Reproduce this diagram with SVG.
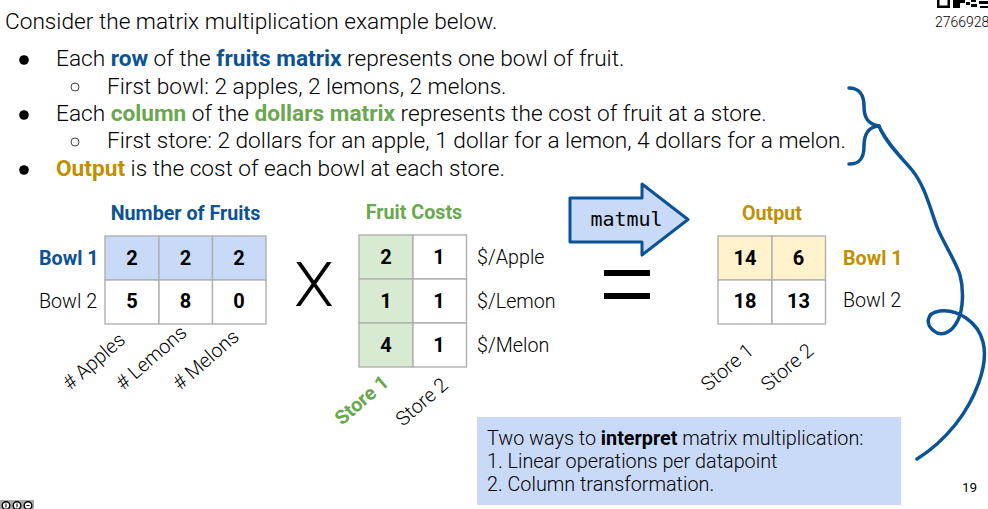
<svg xmlns="http://www.w3.org/2000/svg" width="988" height="509" viewBox="0 0 988 509">
<style>
text{font-family:Roboto,"Liberation Sans",sans-serif;font-weight:300;fill:#000}
.b{font-weight:700}
.blue{fill:#0b5394}.green{fill:#6aa84f}.gold{fill:#bf9000}
.t{font-size:22.67px}
.l{font-size:19.7px}
.h{font-size:19.7px;font-weight:700;text-anchor:middle}
.n{font-size:20px;font-weight:700;text-anchor:middle}
.cell{stroke:#b0b0b0;stroke-width:1.4;fill:#fff}
.cb{fill:#c9daf8}.cg{fill:#d9ead3}.cy{fill:#fff2cc}
.ink{fill:none;stroke:#0b5394;stroke-width:3.5;stroke-linecap:round;stroke-linejoin:round}
</style>
<rect width="988" height="509" fill="#fff"/>

<g id="qr" fill="#000">
<path d="M937 0h13v8h-13zM939.500 0v5.500h8V0z" fill-rule="evenodd"/>
<rect x="953" y="0" width="7" height="8"/>
<rect x="960" y="0" width="5" height="3"/>
<rect x="966" y="2" width="4" height="3"/>
<rect x="971" y="0" width="5" height="2"/>
<rect x="971" y="4" width="6" height="3"/>
<rect x="979" y="1" width="9" height="3"/>
<rect x="980" y="6" width="8" height="2"/>
</g>
<text x="935" y="27" font-size="14">2766928</text>

<g id="bullets">
<text class="t" x="5" y="29">Consider the matrix multiplication example below.</text>
<circle cx="24" cy="60" r="4.800"/>
<text class="t" x="56" y="66">Each <tspan class="b blue">row</tspan> of the <tspan class="b blue">fruits matrix</tspan> represents one bowl of fruit.</text>
<circle cx="75" cy="87" r="4" fill="none" stroke="#444" stroke-width="1"/>
<text class="t" x="107" y="94">First bowl: 2 apples, 2 lemons, 2 melons.</text>
<circle cx="24" cy="115" r="4.800"/>
<text class="t" x="56" y="121">Each <tspan class="b green">column</tspan> of the <tspan class="b green">dollars matrix</tspan> represents the cost of fruit at a store.</text>
<circle cx="75" cy="142" r="4" fill="none" stroke="#444" stroke-width="1"/>
<text class="t" x="107" y="148">First store: 2 dollars for an apple, 1 dollar for a lemon, 4 dollars for a melon.</text>
<circle cx="24" cy="170" r="4.800"/>
<text class="t" x="56" y="176"><tspan class="b gold">Output</tspan> is the cost of each bowl at each store.</text>
</g>

<g id="fruits-matrix">
<text class="h blue" x="185.500" y="220">Number of Fruits</text>
<rect class="cell cb" x="105" y="236" width="54" height="44"/>
<rect class="cell cb" x="159" y="236" width="53.500" height="44"/>
<rect class="cell cb" x="212.500" y="236" width="53.500" height="44"/>
<rect class="cell" x="105" y="280" width="54" height="44"/>
<rect class="cell" x="159" y="280" width="53.500" height="44"/>
<rect class="cell" x="212.500" y="280" width="53.500" height="44"/>
<text class="n" x="132" y="265">2</text><text class="n" x="185.500" y="265">2</text><text class="n" x="239" y="265">2</text>
<text class="n" x="132" y="308">5</text><text class="n" x="185.500" y="308">8</text><text class="n" x="239" y="308">0</text>
<text class="l b blue" x="39" y="265">Bowl 1</text>
<text class="l" x="39" y="308">Bowl 2</text>
<text class="l" transform="translate(70 391) rotate(-41)"># Apples</text>
<text class="l" transform="translate(123 391) rotate(-41)"># Lemons</text>
<text class="l" transform="translate(180 391) rotate(-41)"># Melons</text>
</g>

<text id="times" transform="translate(294 306) scale(1.05 1)" font-size="62">X</text>

<g id="costs-matrix">
<text class="h green" x="414" y="219">Fruit Costs</text>
<rect class="cell cg" x="359" y="235" width="54" height="44"/>
<rect class="cell" x="413" y="235" width="53.500" height="44"/>
<rect class="cell cg" x="359" y="279" width="54" height="44"/>
<rect class="cell" x="413" y="279" width="53.500" height="44"/>
<rect class="cell cg" x="359" y="323" width="54" height="44"/>
<rect class="cell" x="413" y="323" width="53.500" height="44"/>
<text class="n" x="386" y="264">2</text><text class="n" x="439" y="264">1</text>
<text class="n" x="386" y="308">1</text><text class="n" x="439" y="308">1</text>
<text class="n" x="386" y="352">4</text><text class="n" x="439" y="352">1</text>
<text class="l" x="477" y="264">$/Apple</text>
<text class="l" x="477" y="308">$/Lemon</text>
<text class="l" x="477" y="352">$/Melon</text>
<text class="l b green" transform="translate(342 426) rotate(-41)">Store 1</text>
<text class="l" transform="translate(403 427) rotate(-41)">Store 2</text>
</g>

<g id="matmul">
<path d="M570 198H642V184L688 219.500L642 255V242H570Z" fill="#c9daf8" stroke="#0b5394" stroke-width="3" stroke-linejoin="round"/>
<text x="626.500" y="226" font-size="20" text-anchor="middle" style='font-family:"DejaVu Sans Mono","Liberation Mono",monospace;font-weight:400'>matmul</text>
</g>

<g id="equals" fill="#000">
<rect x="604" y="270" width="46" height="6"/>
<rect x="604" y="293" width="46" height="6"/>
</g>

<g id="output-matrix">
<text class="h gold" x="772" y="220">Output</text>
<rect class="cell cy" x="718" y="236" width="54" height="44"/>
<rect class="cell cy" x="772" y="236" width="53.500" height="44"/>
<rect class="cell" x="718" y="280" width="54" height="44"/>
<rect class="cell" x="772" y="280" width="53.500" height="44"/>
<text class="n" x="745" y="265">14</text><text class="n" x="798.500" y="265">6</text>
<text class="n" x="745" y="308">18</text><text class="n" x="798.500" y="308">13</text>
<text class="l b gold" x="843" y="265">Bowl 1</text>
<text class="l" x="843" y="307">Bowl 2</text>
<text class="l" transform="translate(708 392) rotate(-40)">Store 1</text>
<text class="l" transform="translate(768 392) rotate(-40)">Store 2</text>
</g>

<g id="note">
<rect x="477" y="417" width="424" height="88" fill="#c9daf8"/>
<text x="487" y="445" font-size="19.800">Two ways to <tspan class="b">interpret</tspan> matrix multiplication:</text>
<text x="487" y="468" font-size="19.800">1. Linear operations per datapoint</text>
<text x="487" y="491" font-size="19.800">2. Column transformation.</text>
</g>

<text id="page" x="962" y="492" font-size="13.500" style="font-weight:400">19</text>

<g id="cc">
<rect x="0" y="500" width="34" height="9" fill="#aaa"/>
<circle cx="6" cy="505.500" r="3.800" fill="#fff" stroke="#000" stroke-width="1.400"/>
<circle cx="17" cy="505.500" r="3.800" fill="#fff" stroke="#000" stroke-width="1.400"/>
<circle cx="28" cy="505.500" r="3.800" fill="#fff" stroke="#000" stroke-width="1.400"/>
<path d="M6 503.500v4M17 503.500v4M26.500 505.500h3" stroke="#000" stroke-width="1"/>
</g>

<g id="connectors">
<path class="ink" d="M849 88C859 88 864 95 864 106C864 118 868 124 879 126C868 127 864 134 864 146C864 158 860 164 849 164"/>
<path class="ink" d="M879 126C886 143 902 158 912 170C925 186 930 208 937 227C942 240 956 262 960 275C964 290 963 310 958 320C952 333 941 337 934 331C926 325 925 313 940 311C958 309 978 322 983 342C989 365 975 400 955 425C942 441 930 451 917 459"/>
</g>
</svg>
